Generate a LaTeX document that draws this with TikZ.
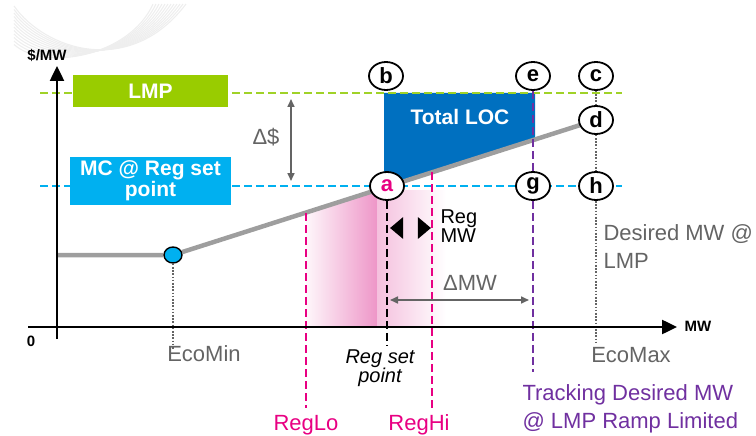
\documentclass[tikz,border=0pt]{standalone}
\usepackage{fontspec}
\setmainfont{Liberation Sans}
\usepackage{tikz}
\usetikzlibrary{positioning,arrows.meta,shapes.geometric,backgrounds}
\definecolor{colorlmp}      {RGB}{153,204,0  }
\definecolor{colorlmpline}  {RGB}{160,210,40 }
\definecolor{colormc}       {RGB}{0  ,176,240}
\definecolor{colorloc}      {RGB}{0  ,112,192}
\definecolor{colorreg}      {RGB}{232,0  ,130}
\definecolor{colortrack}    {RGB}{112,48 ,160}
\definecolor{colorcurve}    {RGB}{158,158,158}
\definecolor{colorlabel}    {RGB}{100,100,100}
\definecolor{colorshade}    {RGB}{238,150,200}
\definecolor{colorswirl}    {RGB}{238,238,238}

\begin{document}
\begin{tikzpicture}[
    x=1pt, y=-1pt,
    font={\fontsize{22}{28}\selectfont},
    box/.style={text=white,font={\fontsize{21}{21}\selectfont\bfseries},inner sep=0pt,align=center},
    letter/.style={ellipse,draw=black,line width=1.8pt,fill=white,minimum width=34pt,minimum height=28pt,inner sep=0pt,font={\fontsize{22}{22}\selectfont\bfseries}},
    axislabel/.style={font={\fontsize{15}{15}\selectfont\bfseries}},
    graylabel/.style={text=colorlabel,align=left},
    axis/.style={line width=2.5pt,-{Triangle[length=15pt,width=14pt]}},
    guide/.style={line width=2pt,dash pattern=on 8pt off 4pt},
    dots/.style={line width=1.6pt,colorlabel,dash pattern=on 1.6pt off 1.6pt},
    span/.style={line width=1.6pt,colorlabel,{Triangle[length=8pt,width=7pt]}-{Triangle[length=8pt,width=7pt]}},
    regtip/.style={isosceles triangle,isosceles triangle apex angle=80,fill=black,inner sep=0pt,minimum height=13pt,minimum width=13pt},
]

    \useasboundingbox (0,0) rectangle (756,436);

    % Background swirl
    \foreach \k in {0,...,11}
        \draw[colorswirl,line width=1.1pt] (14,{6+\k*3.5}) .. controls (45,{50+\k*2}) and (130,{78-\k*2}) .. ({186-\k*3},4);

    % Axes
    \coordinate (ybot)  at (57,339);
    \coordinate (ytop)  at (57,66);
    \coordinate (xleft) at (28,327);
    \coordinate (xright) at (677,327);
    \draw[axis] (ybot) -- (ytop);
    \draw[axis] (xleft) -- (xright);
    \node[axislabel] (ylabel) at (47,55)  {\$/MW};
    \node[axislabel] (xlabel) at (698,326) {MW};
    \node[axislabel] (zero)   at (31,341) {0};

    % Price levels
    \node[box,fill=colorlmp,minimum width=155pt,minimum height=32pt] (lmpbox) at (150.5,91) {LMP};
    \node[box,fill=colormc,minimum width=161pt,minimum height=48pt] (mcbox) at (150.5,181) {MC @ Reg set\\point};

    % Points
    \node[letter] (b) at (386,76)  {b};
    \node[letter] (e) at (533,76)  {e};
    \node[letter] (c) at (596,76)  {c};
    \node[letter] (d) at (596,120) {d};
    \node[letter,text=colorreg] (a) at (387,186) {a};
    \node[letter] (g) at (533,186) {g};
    \node[letter] (h) at (596,186) {h};
    \node[ellipse,draw=black,line width=1.4pt,fill=colormc,minimum width=18pt,minimum height=16pt,inner sep=0pt] (ecomin) at (173,255) {};

    % Regulation range
    \node[regtip,shape border rotate=180] (regleft) at (398,228) {};
    \node[regtip] (regright) at (423,228) {};
    \node[align=left,anchor=west,font={\fontsize{20}{19}\selectfont}] (regmw) at (437,226) {Reg\\MW};
    \node[text=colorreg] (reglo) at (306,425) {RegLo};
    \node[text=colorreg] (reghi) at (419,425) {RegHi};
    \node[align=center,font={\fontsize{20}{19}\selectfont\itshape}] (regset) at (380,368) {Reg set\\point};

    % Labels
    \node[text=white,font={\fontsize{21}{21}\selectfont\bfseries}] (loc) at (460,117) {Total LOC};
    \node[graylabel] (dprice) at (266,137) {Δ\$};
    \node[graylabel] (dmw) at (470,283) {ΔMW};
    \node[graylabel] (ecominlabel) at (204,354) {EcoMin};
    \node[graylabel] (ecomaxlabel) at (631,355) {EcoMax};
    \node[graylabel,anchor=west] (desired) at (600,247) {Desired MW @\\LMP};
    \node[text=colortrack,align=left,anchor=west] (track) at (519,409) {Tracking Desired MW\\@ LMP Ramp Limited};

    \begin{scope}[on background layer]
        % Shaded regulation band
        \shade[left color=colorshade!8,right color=colorshade] (306,213) -- (377,190) -- (377,327) -- (306,327) -- cycle;
        \shade[left color=colorshade!60,right color=white] (377,190) -- (446,190) -- (446,327) -- (377,327) -- cycle;
        % Lost opportunity cost
        \fill[colorloc] (384,93) -- (535,93) -- (535,139) -- (384,187) -- cycle;
        % Dashed levels
        \coordinate (lmpleft)  at (40,93);
        \coordinate (lmpright) at (622,93);
        \coordinate (mcleft)   at (40,186);
        \coordinate (mcright)  at (622,186);
        \draw[guide,colorlmpline] (lmpleft) -- (lmpright);
        \draw[guide,colormc] (mcleft) -- (mcright);
        % Offer curve
        \coordinate (flat) at (57,255);
        \draw[colorcurve,line width=4.5pt] (flat) -- (ecomin) -- (d);
        % Verticals
        \coordinate (reglotop) at (306,213);
        \coordinate (reglobot) at (306,408);
        \coordinate (reghitop) at (432,172);
        \coordinate (reghibot) at (432,408);
        \coordinate (setend)   at (387,345);
        \coordinate (trackend) at (533,372);
        \coordinate (ecominend) at (173,350);
        \coordinate (ecomaxend) at (596,343);
        \draw[guide,colorreg] (reglotop) -- (reglobot);
        \draw[guide,colorreg] (reghitop) -- (reghibot);
        \draw[guide,black] (a.south) -- (setend);
        \draw[guide,colortrack,line width=2.8pt] (e.south) -- (g.north);
        \draw[guide,colortrack,line width=2.8pt] (g.south) -- (trackend);
        \draw[dots] (ecomin) -- (ecominend);
        \draw[dots] (c) -- (d);
        \draw[dots] (d) -- (h);
        \draw[dots] (h) -- (ecomaxend);
    \end{scope}

    % Spans
    \coordinate (dpricetop) at (291,99);
    \coordinate (dpricebot) at (291,181);
    \coordinate (dmwleft)   at (390,300);
    \coordinate (dmwright)  at (529,300);
    \draw[span] (dpricetop) -- (dpricebot);
    \draw[span] (dmwleft) -- (dmwright);

\end{tikzpicture}
\end{document}
